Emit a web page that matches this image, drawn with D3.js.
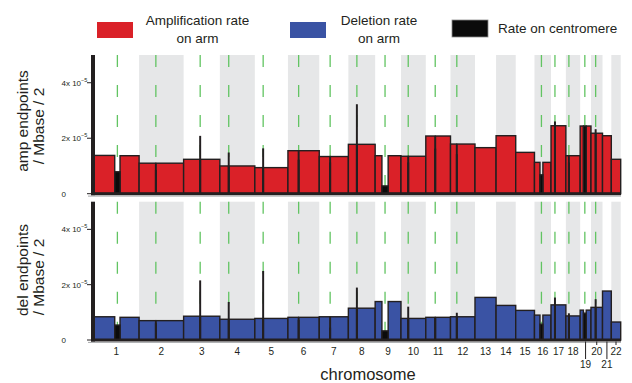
<!DOCTYPE html>
<html>
<head>
<meta charset="utf-8">
<script src="https://cdn.jsdelivr.net/npm/d3@7"></script>
<style>
  body { margin: 0; background: #fff; }
  svg { display: block; font-family: "Liberation Sans", Arial, sans-serif; }
</style>
</head>
<body>
<svg id="chart" width="632" height="383"></svg>
<script>
// Autosomes, lengths in Mb
const chromosomes = ["1","2","3","4","5","6","7","8","9","10","11","12","13","14","15","16","17","18","19","20","21","22"];
const chromLength = [249.25, 243.2, 198.0, 191.15, 180.9, 171.1, 159.1, 146.4, 141.2, 135.5, 135.0, 133.85, 115.2, 107.35, 102.5, 90.35, 81.2, 78.1, 59.1, 63.0, 48.1, 51.3];
// centromere region (Mb from chromosome start); null = acrocentric, q arm only
const cenStart = [116, 90, 89, 47, 44, 57, 58, 45, 37, 38, 50, 33, null, null, null, 30, 20, 15, 18, 24, null, null];
const cenEnd   = [145, 93, 92, 50, 47, 60, 61, 48, 71, 41, 53, 36, null, null, null, 46, 23, 18, 33, 27, null, null];

// breakpoint rates, units of 1e-5 per Mb / 2
const ampP   = [1.38, 1.10, 1.24, 1.00, 0.94, 1.55, 1.34, 1.78, 1.37, 1.35, 2.08, 1.79, null, null, null, 1.13, 2.45, 1.37, 2.44, 2.18, null, null];
const ampQ   = [1.37, 1.10, 1.24, 1.00, 0.94, 1.55, 1.34, 1.78, 1.37, 1.35, 2.08, 1.79, 1.66, 2.09, 1.49, 1.13, 2.45, 1.37, 2.44, 2.18, 2.09, 1.24];
const ampCen = [0.79, 0.83, 2.06, 1.46, 1.61, 1.20, 1.10, 3.20, 0.28, 1.10, 1.60, 1.40, null, null, null, 0.68, 2.58, 1.10, 2.44, 2.30, null, null];

const delP   = [0.84, 0.70, 0.86, 0.75, 0.78, 0.82, 0.84, 1.15, 1.39, 0.78, 0.82, 0.84, null, null, null, 0.90, 1.27, 0.87, 1.08, 1.18, null, null];
const delQ   = [0.82, 0.70, 0.86, 0.75, 0.78, 0.82, 0.84, 1.15, 1.39, 0.78, 0.82, 0.84, 1.54, 1.25, 1.07, 0.90, 1.27, 0.87, 1.08, 1.18, 1.77, 0.65];
const delCen = [0.54, 0.58, 2.13, 1.35, 2.47, 0.70, 0.42, 1.87, 0.33, 1.18, 0.80, 0.96, null, null, null, 0.57, 1.51, 0.94, 0.97, 1.45, null, null];

const yTicks = [0, 2, 4];
const legendItems = [
  { lines: ["Amplification rate", "on arm"], color: "#da2128" },
  { lines: ["Deletion rate", "on arm"], color: "#3a53a4" },
  { lines: ["Rate on centromere"], color: "#0b0b0b" }
];

const svg = d3.select("#chart");
const ink = "#231f20";

const offsets = [0, ...d3.cumsum(chromLength)];
const total = offsets[offsets.length - 1];
const x = d3.scaleLinear().domain([0, total]).range([93.5, 620.7]);

function armSegments(pVals, qVals, cVals) {
  const arms = [], cens = [];
  chromosomes.forEach((c, i) => {
    const s = offsets[i], L = chromLength[i];
    if (cenStart[i] == null) {
      arms.push({ x0: s, x1: s + L, v: qVals[i] });
    } else {
      arms.push({ x0: s, x1: s + cenStart[i], v: pVals[i] });
      arms.push({ x0: s + cenEnd[i], x1: s + L, v: qVals[i] });
      cens.push({ x0: s + cenStart[i], x1: s + cenEnd[i], v: cVals[i] });
    }
  });
  return { arms, cens };
}

const panels = [
  { top: 55, base: 193.7, fill: "#da2128", data: armSegments(ampP, ampQ, ampCen),
    title: ["amp endpoints", "/ Mbase / 2"], tc: [121, 126] },
  { top: 201.7, base: 340, fill: "#3a53a4", data: armSegments(delP, delQ, delCen),
    title: ["del endpoints", "/ Mbase / 2"], tc: [270, 277] }
];

panels.forEach(p => {
  const y = d3.scaleLinear().domain([0, 5]).range([p.base, p.top]);
  const g = svg.append("g");

  // alternating chromosome shading (even chromosomes grey)
  g.selectAll("rect.band")
    .data(chromosomes.filter((c, i) => i % 2 === 1))
    .join("rect")
    .attr("x", c => x(offsets[+c - 1]))
    .attr("width", c => x(offsets[+c]) - x(offsets[+c - 1]))
    .attr("y", p.top)
    .attr("height", p.base - p.top)
    .attr("fill", "#e6e7e8");

  // centromere guide lines
  g.selectAll("line.cen")
    .data(chromosomes.filter((c, i) => cenStart[i] != null))
    .join("line")
    .attr("x1", c => x(offsets[+c - 1] + (cenStart[+c - 1] + cenEnd[+c - 1]) / 2))
    .attr("x2", c => x(offsets[+c - 1] + (cenStart[+c - 1] + cenEnd[+c - 1]) / 2))
    .attr("y1", p.top)
    .attr("y2", p.base)
    .attr("stroke", "#62c462")
    .attr("stroke-width", 1.3)
    .attr("stroke-dasharray", "12,18");

  // arm bars
  g.selectAll("rect.arm")
    .data(p.data.arms)
    .join("rect")
    .attr("x", d => x(d.x0))
    .attr("width", d => x(d.x1) - x(d.x0))
    .attr("y", d => y(d.v))
    .attr("height", d => p.base - y(d.v))
    .attr("fill", p.fill)
    .attr("stroke", ink)
    .attr("stroke-width", 1.4);

  // centromere bars
  g.selectAll("rect.cen")
    .data(p.data.cens)
    .join("rect")
    .attr("x", d => x(d.x0))
    .attr("width", d => x(d.x1) - x(d.x0))
    .attr("y", d => y(d.v))
    .attr("height", d => p.base - y(d.v))
    .attr("fill", "#0b0b0b")
    .attr("stroke", ink)
    .attr("stroke-width", 1.4);

  // axes
  g.append("line").attr("x1", 88).attr("x2", 621).attr("y1", p.base + 2.4).attr("y2", p.base + 2.4)
    .attr("stroke", "#a7a9ac").attr("stroke-width", 1);
  g.append("rect").attr("x", 91).attr("y", p.base - 1.5).attr("width", 530).attr("height", 3).attr("fill", ink);
  g.append("rect").attr("x", 91).attr("y", p.top).attr("width", 4).attr("height", p.base - p.top + 1.5).attr("fill", ink);

  const tk = g.selectAll("g.tick").data(yTicks).join("g")
    .attr("transform", d => `translate(0,${y(d)})`);
  tk.append("line").attr("x1", 87).attr("x2", 92).attr("stroke", ink).attr("stroke-width", 1);
  const lbl = tk.append("text").attr("x", 61.5).attr("y", 3)
    .attr("font-size", 8).attr("fill", ink);
  lbl.append("tspan").text(d => d === 0 ? "0" : `${d}x 10`);
  lbl.filter(d => d !== 0).append("tspan").attr("font-size", 5.5).attr("dy", -4).text("\u22125");

  // axis title
  p.title.forEach((t, k) => {
    svg.append("text")
      .attr("transform", `translate(${28 + k * 15.5},${p.tc[k]}) rotate(-90)`)
      .attr("text-anchor", "middle")
      .attr("font-size", 15.5)
      .attr("fill", ink)
      .text(t);
  });
});

// chromosome labels
const mid = c => x(offsets[+c - 1] + chromLength[+c - 1] / 2);
const lowRow = new Set(["19", "21"]);
svg.selectAll("line.xt")
  .data(["19", "20", "21", "22"])
  .join("line")
  .attr("x1", mid).attr("x2", mid)
  .attr("y1", 341.5)
  .attr("y2", c => lowRow.has(c) ? 359 : 345)
  .attr("stroke", ink).attr("stroke-width", 1);
svg.selectAll("text.xl")
  .data(chromosomes)
  .join("text")
  .attr("x", mid)
  .attr("y", c => lowRow.has(c) ? 368 : 355)
  .attr("text-anchor", "middle")
  .attr("font-size", 10)
  .attr("fill", ink)
  .text(c => c);
svg.append("text").attr("x", 368).attr("y", 380).attr("text-anchor", "middle")
  .attr("font-size", 16.5).attr("fill", ink).text("chromosome");

// legend
const legX = [97, 290, 452];
const textX = [197.6, 379, 498];
legendItems.forEach((it, i) => {
  const lg = svg.append("g");
  const single = it.lines.length === 1;
  lg.append("rect")
    .attr("x", legX[i]).attr("y", single ? 20 : 22)
    .attr("width", 36).attr("height", single ? 17 : 16)
    .attr("fill", it.color)
    .attr("stroke", single ? "#8a8a8a" : "none").attr("stroke-width", 0.8);
  it.lines.forEach((t, k) => {
    lg.append("text")
      .attr("x", textX[i])
      .attr("y", single ? 33 : 25 + k * 18)
      .attr("text-anchor", single ? "start" : "middle")
      .attr("font-size", 13.5)
      .attr("fill", ink)
      .text(t);
  });
});
</script>
</body>
</html>
